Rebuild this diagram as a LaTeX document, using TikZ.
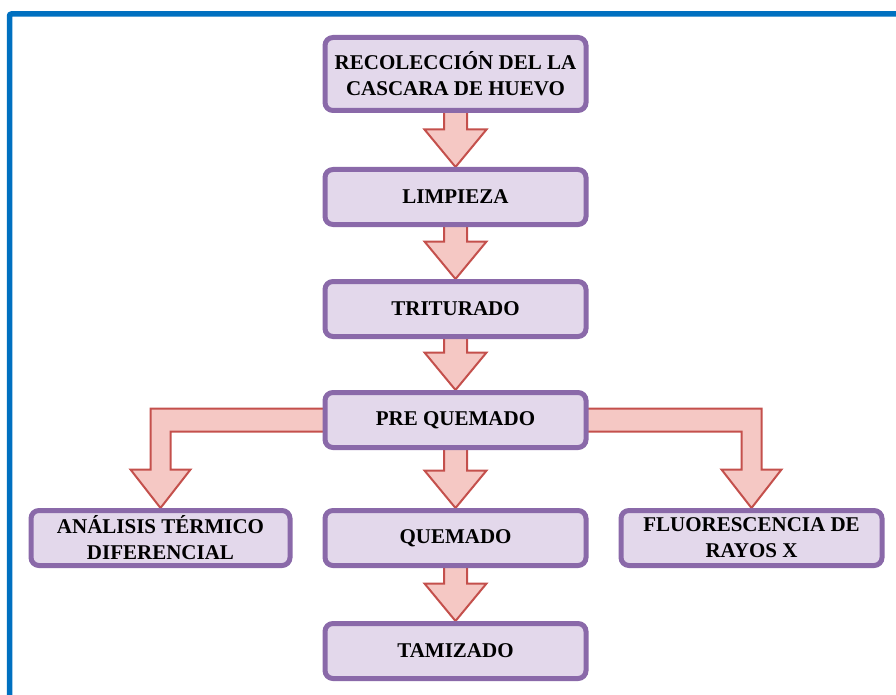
\documentclass[tikz,border=0pt]{standalone}
\usepackage{fontspec}
\setmainfont{Liberation Serif}
\usetikzlibrary{positioning,calc,backgrounds}

\definecolor{boxline}{HTML}{8A69A9}
\definecolor{boxfill}{HTML}{E3D8EB}
\definecolor{arrowline}{HTML}{C4504C}
\definecolor{arrowfill}{HTML}{F5C8C4}
\definecolor{frameblue}{HTML}{0070C0}

\tikzset{
  stepbox/.style={draw=boxline, fill=boxfill, line width=5pt, rounded corners=8pt,
    align=center, minimum width=261pt, minimum height=55pt, inner sep=0pt,
    outer sep=0pt, font=\fontsize{21}{26}\selectfont\bfseries},
  fatarrow/.style={draw=arrowline, fill=arrowfill, line width=2pt, line join=miter}
}

% flecha gruesa vertical entre dos cajas
\newcommand{\downblock}[2]{%
  \path let \p1=(#1.south), \p2=(#2.north) in
    [fatarrow] (\x2-11.5pt,\y1) -- (\x2+11.5pt,\y1) -- (\x2+11.5pt,\y2+40pt)
    -- (\x2+31pt,\y2+40pt) -- (\x2,\y2+2.5pt) -- (\x2-31pt,\y2+40pt)
    -- (\x2-11.5pt,\y2+40pt) -- cycle;}

\begin{document}
\begin{tikzpicture}[x=1pt, y=-1pt, node distance=58pt]
  \useasboundingbox (0,0) rectangle (896,695);
  % marco azul
  \draw[frameblue, line width=5.5pt, rounded corners=2pt] (9.5,700) -- (9.5,14) -- (900,14);

  \node[stepbox, minimum height=73pt] (recoleccion) at (455.5,74)
    {RECOLECCIÓN DEL LA\\CASCARA DE HUEVO};
  \node[stepbox, below=59pt of recoleccion] (limpieza) {LIMPIEZA};
  \node[stepbox, below=57pt of limpieza] (triturado) {TRITURADO};
  \node[stepbox, below=56pt of triturado] (prequemado) {PRE QUEMADO};
  \node[stepbox, below=63pt of prequemado] (quemado) {QUEMADO};
  \node[stepbox, below=of quemado] (tamizado) {TAMIZADO};
  \node[stepbox, minimum width=259pt, left=35pt of quemado] (analisis)
    {ANÁLISIS TÉRMICO\\DIFERENCIAL};
  \node[stepbox, right=35pt of quemado] (fluorescencia)
    {FLUORESCENCIA DE\\RAYOS X};

  \begin{scope}[on background layer]
    \downblock{recoleccion}{limpieza}
    \downblock{limpieza}{triturado}
    \downblock{triturado}{prequemado}
    \downblock{prequemado}{quemado}
    \downblock{quemado}{tamizado}
    % flechas laterales
    \path let \p1=(prequemado.west), \p2=(analisis.north) in
      [fatarrow] (\x1,\y1+11.5pt) -- (\x2-10pt,\y1+11.5pt) -- (\x2-10pt,\y2+41pt)
      -- (\x2-30pt,\y2+41pt) -- (\x2,\y2+2.5pt) -- (\x2+30pt,\y2+41pt)
      -- (\x2+10pt,\y2+41pt) -- (\x2+10pt,\y1-11.5pt) -- (\x1,\y1-11.5pt) -- cycle;
    \path let \p1=(prequemado.east), \p2=(fluorescencia.north) in
      [fatarrow] (\x1,\y1+11.5pt) -- (\x2+10pt,\y1+11.5pt) -- (\x2+10pt,\y2+41pt)
      -- (\x2+30pt,\y2+41pt) -- (\x2,\y2+2.5pt) -- (\x2-30pt,\y2+41pt)
      -- (\x2-10pt,\y2+41pt) -- (\x2-10pt,\y1-11.5pt) -- (\x1,\y1-11.5pt) -- cycle;
  \end{scope}
\end{tikzpicture}
\end{document}
